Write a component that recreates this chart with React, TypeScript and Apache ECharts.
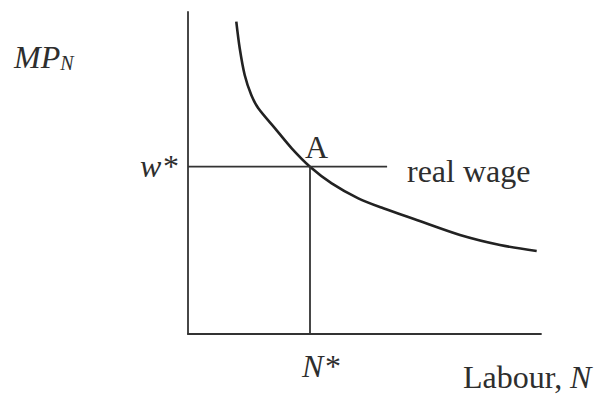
import React, { useEffect, useRef } from "react";
import * as echarts from "echarts";

// Marginal product of labour curve (Labour N, MP_N)
const curveN = [13.68, 14.65, 16.06, 17.93, 19.92, 24.65, 29.38, 34.56, 40.71, 48.24, 55.33, 64.79, 77.05, 88.39, 98.78];
const curveMP = [96.99, 88.73, 80.43, 74.22, 70.09, 63.88, 57.67, 51.96, 46.8, 42.14, 39.04, 35.4, 30.75, 27.64, 25.78];

// Equilibrium
const nStar = 34.56;
const wStar = 51.96;
const wageLineEnd = 56.4;

const FONT = "'Liberation Serif', 'Times New Roman', serif";
const INK = "#2e2e2e";
const LINE = "#333";

export default function App() {
  const ref = useRef<HTMLDivElement>(null);
  useEffect(() => {
    if (!ref.current) return;
    const chart = echarts.init(ref.current, undefined, { renderer: "svg" });
    const mid = (baseline: number, size: number) => baseline - 0.34 * size;
    const txt = (x: number, baseline: number, text: string, size: number, italic: boolean) => ({
      type: "text",
      x,
      y: mid(baseline, size),
      style: {
        text,
        fill: INK,
        font: `${italic ? "italic " : ""}${size}px ${FONT}`,
        align: "left",
        verticalAlign: "middle",
      },
    });
    chart.setOption({
      animation: false,
      grid: { left: 188, right: 57, top: 12, bottom: 60 },
      xAxis: {
        type: "value",
        min: 0,
        max: 100,
        axisLine: { show: true, onZero: false, lineStyle: { color: LINE, width: 1.8 } },
        axisTick: { show: false },
        axisLabel: { show: false },
        splitLine: { show: false },
      },
      yAxis: {
        type: "value",
        min: 0,
        max: 100,
        axisLine: { show: true, onZero: false, lineStyle: { color: LINE, width: 1.8 } },
        axisTick: { show: false },
        axisLabel: { show: false },
        splitLine: { show: false },
      },
      series: [
        {
          type: "line",
          data: curveN.map((n, i) => [n, curveMP[i]]),
          smooth: 0.3,
          symbol: "none",
          lineStyle: { color: "#222", width: 2.6 },
        },
        {
          type: "line",
          data: [[0, wStar], [wageLineEnd, wStar]],
          symbol: "none",
          lineStyle: { color: LINE, width: 1.8 },
        },
        {
          type: "line",
          data: [[nStar, 0], [nStar, wStar]],
          symbol: "none",
          lineStyle: { color: LINE, width: 1.8 },
        },
      ],
      graphic: [
        {
          type: "text",
          x: 14,
          y: 43,
          style: {
            text: "{a|MP}{b|N}",
            align: "left",
            verticalAlign: "top",
            rich: {
              a: { font: `italic 32px ${FONT}`, fill: INK, verticalAlign: "bottom", lineHeight: 30 },
              b: { font: `italic 20px ${FONT}`, fill: INK, verticalAlign: "bottom", lineHeight: 14 },
            },
          },
        },
        txt(140, 177, "w", 32, true),
        txt(163, 177, "*", 32, false),
        txt(305, 158, "A", 32, false),
        txt(407, 182, "real wage", 32, false),
        txt(302, 377, "N", 32, true),
        txt(325, 377, "*", 32, false),
        txt(463, 388, "Labour,", 32, false),
        txt(570, 388, "N", 32, true),
      ],
    });
    return () => chart.dispose();
  }, []);
  return (
    <div
      ref={ref}
      style={{ position: "absolute", left: 0, top: 0, width: 598, height: 394, background: "#fff" }}
    />
  );
}
